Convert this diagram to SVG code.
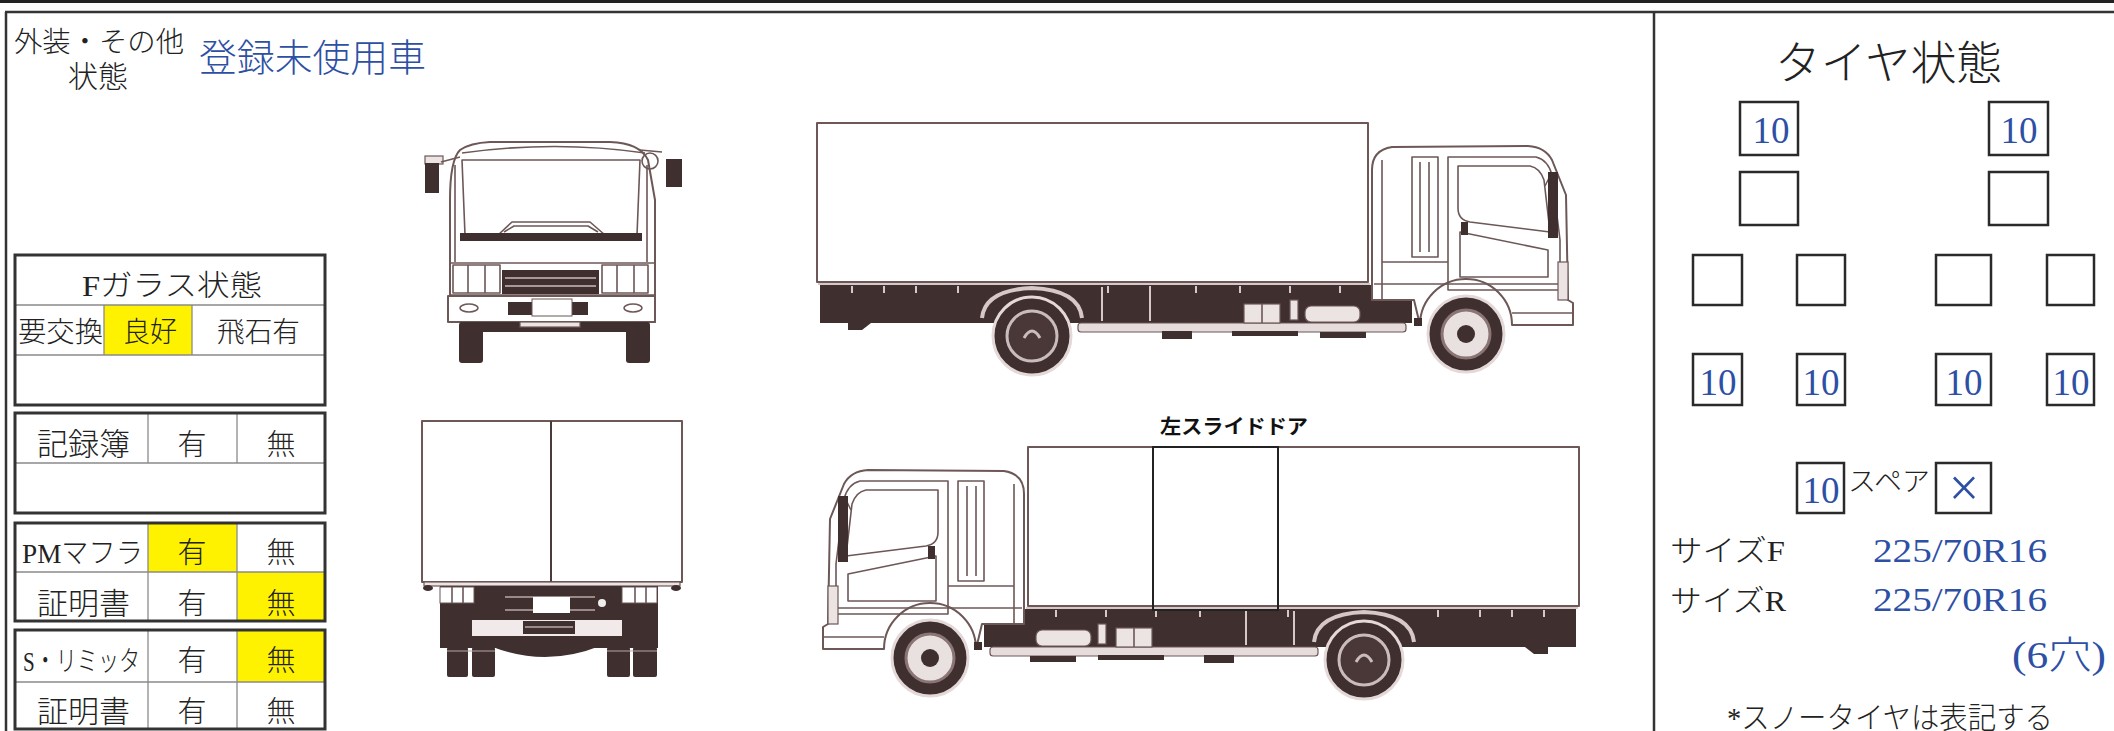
<svg xmlns="http://www.w3.org/2000/svg" width="2114" height="731" viewBox="0 0 2114 731">
<style>
.t{font-family:"Liberation Serif","Noto Sans CJK JP",serif;fill:#222;font-weight:300}
.b{fill:#2d50a5}
.box{fill:none;stroke:#2a2a2a;stroke-width:2.5}
.tbl{fill:none;stroke:#333;stroke-width:3}
.in{stroke:#8a8a8a;stroke-width:1.3}
.y{fill:#fff200}
.ol{fill:#fff;stroke:#6d5757;stroke-width:2;stroke-linejoin:round}
.ln{fill:none;stroke:#6d5757;stroke-width:1.6;stroke-linejoin:round}
.dk{fill:#3f2f2f}
.lt{fill:#ece3e3;stroke:#6d5757;stroke-width:1.2}
.hl{stroke:#d6c8c8;stroke-width:2;fill:none}
</style>
<defs>
<g id="sideTruck">
  <rect class="ol" x="817" y="123" width="551" height="159"/>
  <rect class="dk" x="820" y="285" width="592" height="38"/>
  <line class="hl" x1="818" y1="284" x2="1370" y2="284"/>
  <g class="hl">
    <path d="M852,286v7M884,286v7M916,286v7M958,286v7M1108,286v7M1150,286v7M1196,286v7M1240,286v7M1290,286v7M1340,286v7"/>
    <path d="M1102,287v34M1150,287v34"/>
  </g>
  <path class="dk" d="M848,300 V330 H862 L880,316 V300 Z"/>
  <rect x="1078" y="323" width="328" height="9" rx="3" fill="#e6dcdc" stroke="#6d5757" stroke-width="1.2"/>
  <rect class="dk" x="1162" y="331" width="30" height="8"/>
  <rect class="dk" x="1232" y="331" width="66" height="5"/>
  <rect class="dk" x="1320" y="332" width="46" height="6"/>
  <rect class="lt" x="1244" y="304" width="36" height="19"/>
  <line class="ln" x1="1262" y1="304" x2="1262" y2="323"/>
  <rect class="lt" x="1290" y="300" width="8" height="20"/>
  <rect class="lt" x="1305" y="306" width="55" height="16" rx="6"/>
  <path d="M982,318 Q985,290 1032,288 Q1079,290 1082,318" fill="none" stroke="#d6c8c8" stroke-width="4"/>
  <g>
    <circle cx="1032" cy="336" r="39" fill="#3f2f2f" stroke="#e4d8d8" stroke-width="3"/>
    <circle cx="1032" cy="336" r="25" fill="#4a3838" stroke="#cbbcbc" stroke-width="3"/>
    <path d="M1024,338 Q1032,324 1040,338" fill="none" stroke="#cbbcbc" stroke-width="3"/>
  </g>
  <path class="ol" d="M1372,300 V170 Q1372,150 1392,147 L1528,146 Q1545,147 1552,160 L1566,195 L1568,300 L1573,303 V325 H1512 A46,46 0 0 0 1420,325 L1414,300 Z"/>
  <line class="ln" x1="1382" y1="160" x2="1382" y2="300"/>
  <rect class="ln" x="1412" y="157" width="26" height="100"/>
  <path class="ln" d="M1420,162v90M1429,162v90"/>
  <path class="ln" d="M1448,157 H1536 Q1548,160 1552,175 L1560,240 L1560,290 H1448 Z"/>
  <path class="ln" d="M1458,166 H1530 Q1540,168 1544,180 L1550,232 L1470,222 Q1458,220 1458,208 Z"/>
  <path class="ln" d="M1460,232 L1548,250 L1548,277 H1460 Z"/>
  <rect class="dk" x="1461" y="222" width="7" height="13"/>
  <line class="ln" x1="1382" y1="262" x2="1448" y2="262"/>
  <line class="ln" x1="1374" y1="284" x2="1566" y2="284"/>
  <path class="ln" d="M1545,186 L1549,178"/>
  <rect class="dk" x="1548" y="172" width="10" height="66"/>
  <rect class="lt" x="1558" y="262" width="10" height="38"/>
  <line class="ln" x1="1512" y1="313" x2="1573" y2="313"/>
  <rect class="dk" x="1414" y="318" width="8" height="8"/>
  <g>
    <circle cx="1466" cy="334" r="38" fill="#3f2f2f" stroke="#e4d8d8" stroke-width="3"/>
    <circle cx="1466" cy="334" r="24" fill="#e9e0e0" stroke="#8a7474" stroke-width="3"/>
    <circle cx="1466" cy="334" r="9" fill="#3f2f2f"/>
  </g>
</g>
</defs>
<rect width="2114" height="731" fill="#fff"/>

<g id="frame">
  <rect x="0" y="0" width="2114" height="3" fill="#222"/>
  <line x1="5" y1="12" x2="2114" y2="12" stroke="#333" stroke-width="2.5"/>
  <line x1="6" y1="12" x2="6" y2="731" stroke="#333" stroke-width="2.5"/>
  <line x1="1654" y1="12" x2="1654" y2="731" stroke="#333" stroke-width="2.5"/>
</g>

<g id="header">
  <text class="t" x="14" y="52" font-size="28" textLength="170" lengthAdjust="spacingAndGlyphs">外装・その他</text>
  <text class="t" x="68" y="87" font-size="30">状態</text>
  <text class="t b" x="199" y="71" font-size="38" textLength="227" lengthAdjust="spacingAndGlyphs">登録未使用車</text>
</g>

<g id="fglass">
  <rect class="y" x="104" y="305" width="88" height="50"/>
  <line class="in" x1="15" y1="305" x2="325" y2="305"/>
  <line class="in" x1="15" y1="355" x2="325" y2="355"/>
  <line class="in" x1="104" y1="305" x2="104" y2="355"/>
  <line class="in" x1="192" y1="305" x2="192" y2="355"/>
  <rect class="tbl" x="15" y="255" width="310" height="150"/>
  <text class="t" x="82" y="296" font-size="29" textLength="180" lengthAdjust="spacingAndGlyphs">Fガラス状態</text>
  <text class="t" x="18" y="342" font-size="28" textLength="85" lengthAdjust="spacingAndGlyphs">要交換</text>
  <text class="t" x="123" y="342" font-size="28" textLength="54" lengthAdjust="spacingAndGlyphs">良好</text>
  <text class="t" x="217" y="342" font-size="28" textLength="83" lengthAdjust="spacingAndGlyphs">飛石有</text>
</g>

<g id="record">
  <line class="in" x1="15" y1="463" x2="325" y2="463"/>
  <line class="in" x1="148" y1="413" x2="148" y2="463"/>
  <line class="in" x1="237" y1="413" x2="237" y2="463"/>
  <rect class="tbl" x="15" y="413" width="310" height="100"/>
  <text class="t" x="37" y="455" font-size="31" textLength="93" lengthAdjust="spacingAndGlyphs">記録簿</text>
  <text class="t" x="192" y="455" font-size="29" text-anchor="middle">有</text>
  <text class="t" x="281" y="455" font-size="29" text-anchor="middle">無</text>
</g>

<g id="pm">
  <rect class="y" x="148" y="523" width="89" height="49"/>
  <rect class="y" x="237" y="572" width="88" height="49"/>
  <line class="in" x1="15" y1="572" x2="325" y2="572"/>
  <line class="in" x1="148" y1="523" x2="148" y2="621"/>
  <line class="in" x1="237" y1="523" x2="237" y2="621"/>
  <rect class="tbl" x="15" y="523" width="310" height="98"/>
  <text class="t" x="22" y="563" font-size="28" textLength="121" lengthAdjust="spacingAndGlyphs">PMマフラ</text>
  <text class="t" x="192" y="563" font-size="29" text-anchor="middle">有</text>
  <text class="t" x="281" y="563" font-size="29" text-anchor="middle">無</text>
  <text class="t" x="37" y="614" font-size="30" textLength="93" lengthAdjust="spacingAndGlyphs">証明書</text>
  <text class="t" x="192" y="614" font-size="29" text-anchor="middle">有</text>
  <text class="t" x="281" y="614" font-size="29" text-anchor="middle">無</text>
</g>

<g id="slimiter">
  <rect class="y" x="237" y="630" width="88" height="52"/>
  <line class="in" x1="15" y1="682" x2="325" y2="682"/>
  <line class="in" x1="148" y1="630" x2="148" y2="729"/>
  <line class="in" x1="237" y1="630" x2="237" y2="729"/>
  <rect class="tbl" x="15" y="630" width="310" height="99"/>
  <text class="t" x="23" y="671" font-size="28" textLength="117" lengthAdjust="spacingAndGlyphs">S・リミッタ</text>
  <text class="t" x="192" y="671" font-size="29" text-anchor="middle">有</text>
  <text class="t" x="281" y="671" font-size="29" text-anchor="middle">無</text>
  <text class="t" x="37" y="722" font-size="30" textLength="93" lengthAdjust="spacingAndGlyphs">証明書</text>
  <text class="t" x="192" y="722" font-size="29" text-anchor="middle">有</text>
  <text class="t" x="281" y="722" font-size="29" text-anchor="middle">無</text>
</g>

<g id="truck-front">
  <path class="ol" d="M450,322 V200 Q450,160 460,150 Q470,143 490,142 L610,142 Q640,143 648,160 L655,200 V322 Z"/>
  <path class="ln" d="M462,153 Q555,140 645,153"/>
  <path class="ln" d="M462,160 H640 L637,235 H605 L590,222 H512 L498,235 H465 Z"/>
  <rect class="dk" x="460" y="233" width="182" height="8"/>
  <path class="ln" d="M504,232 L514,226 H588 L598,232"/>
  <path class="ln" d="M455,165 V262 M647,165 V262"/>
  <rect class="lt" x="425" y="156" width="18" height="8"/>
  <rect class="dk" x="425" y="163" width="14" height="30"/>
  <path class="ln" d="M441,162 L460,157"/>
  <circle class="ln" cx="650" cy="161" r="8"/>
  <path class="ln" d="M640,150 L662,152"/>
  <rect class="dk" x="666" y="159" width="16" height="28"/>
  <line class="ln" x1="450" y1="263" x2="655" y2="263"/>
  <line class="ln" x1="450" y1="295" x2="655" y2="295"/>
  <rect class="ln" x="453" y="265" width="47" height="28"/>
  <path class="ln" d="M468,265v28M485,265v28"/>
  <rect class="ln" x="602" y="265" width="46" height="28"/>
  <path class="ln" d="M617,265v28M634,265v28"/>
  <rect class="dk" x="502" y="270" width="97" height="24"/>
  <path d="M505,278 H596 M505,286 H596" stroke="#cbbcbc" stroke-width="1.5"/>
  <rect class="ol" x="448" y="296" width="207" height="26"/>
  <ellipse class="ln" cx="469" cy="308" rx="9" ry="4"/>
  <ellipse class="ln" cx="633" cy="308" rx="9" ry="4"/>
  <rect class="dk" x="508" y="302" width="80" height="13"/>
  <rect x="532" y="299" width="40" height="17" fill="#fff" stroke="#6d5757" stroke-width="1"/>
  <rect class="dk" x="470" y="322" width="165" height="10"/>
  <rect class="lt" x="520" y="322" width="60" height="5"/>
  <rect class="dk" x="459" y="322" width="24" height="41" rx="3"/>
  <rect class="dk" x="626" y="322" width="24" height="41" rx="3"/>
</g>

<g id="truck-side-top">
  <use href="#sideTruck"/>
</g>

<g id="truck-rear">
  <rect class="ol" x="422" y="421" width="260" height="161"/>
  <line x1="551" y1="421" x2="551" y2="582" stroke="#4a3a3a" stroke-width="2"/>
  <rect class="lt" x="424" y="582" width="256" height="4"/>
  <rect class="dk" x="440" y="586" width="218" height="62"/>
  <path class="dk" d="M490,646 Q545,668 600,646 Z"/>
  <ellipse class="dk" cx="428" cy="588" rx="5" ry="3"/>
  <ellipse class="dk" cx="676" cy="588" rx="5" ry="3"/>
  <rect x="440" y="587" width="34" height="16" fill="#fff" stroke="#6d5757"/>
  <path class="ln" d="M452,587v16M463,587v16"/>
  <rect x="622" y="587" width="35" height="16" fill="#fff" stroke="#6d5757"/>
  <path class="ln" d="M635,587v16M646,587v16"/>
  <path d="M505,597 H595 M505,610 H595" stroke="#b8a8a8" stroke-width="1.5"/>
  <rect x="533" y="597" width="37" height="16" fill="#fff"/>
  <circle cx="602" cy="603" r="4" fill="#eee"/>
  <rect x="472" y="620" width="150" height="16" fill="#f2eaea"/>
  <rect class="dk" x="523" y="621" width="52" height="13"/>
  <line x1="525" y1="627" x2="573" y2="627" stroke="#b8a8a8" stroke-width="1.5"/>
  <rect class="dk" x="447" y="647" width="21" height="30" rx="2"/>
  <rect class="dk" x="472" y="647" width="23" height="30" rx="2"/>
  <rect class="dk" x="607" y="647" width="23" height="30" rx="2"/>
  <rect class="dk" x="633" y="647" width="24" height="30" rx="2"/>
  <path d="M447,651 H495 M607,651 H657" stroke="#b8a8a8" stroke-width="1.2"/>
</g>

<g id="truck-side-bottom">
  <use href="#sideTruck" transform="matrix(-1,0,0,1,2396,324)"/>
  <rect x="1153" y="447" width="125" height="163" fill="none" stroke="#222" stroke-width="2"/>
  <text x="1160" y="434" font-family="'Noto Sans CJK JP',sans-serif" font-weight="bold" font-size="20" fill="#111" textLength="148" lengthAdjust="spacingAndGlyphs">左スライドドア</text>
</g>

<g id="tire-title">
  <text class="t" x="1775" y="79" font-size="46" textLength="227" lengthAdjust="spacingAndGlyphs">タイヤ状態</text>
</g>

<g id="tires">
  <rect class="box" x="1740" y="102" width="58" height="53"/>
  <rect class="box" x="1989" y="102" width="59" height="53"/>
  <rect class="box" x="1740" y="172" width="58" height="53"/>
  <rect class="box" x="1989" y="172" width="59" height="53"/>
  <rect class="box" x="1693" y="255" width="49" height="50"/>
  <rect class="box" x="1797" y="255" width="48" height="50"/>
  <rect class="box" x="1936" y="255" width="55" height="50"/>
  <rect class="box" x="2047" y="255" width="47" height="50"/>
  <rect class="box" x="1693" y="354" width="49" height="51"/>
  <rect class="box" x="1797" y="354" width="48" height="51"/>
  <rect class="box" x="1936" y="354" width="55" height="51"/>
  <rect class="box" x="2047" y="354" width="47" height="51"/>
  <g class="t b" font-size="37" text-anchor="middle">
    <text x="1771" y="143">10</text>
    <text x="2019" y="143">10</text>
    <text x="1718" y="395">10</text>
    <text x="1821" y="395">10</text>
    <text x="1964" y="395">10</text>
    <text x="2071" y="395">10</text>
  </g>
</g>

<g id="spare">
  <rect class="box" x="1797" y="463" width="47" height="50"/>
  <rect class="box" x="1936" y="463" width="55" height="50"/>
  <text class="t b" x="1821" y="503" font-size="37" text-anchor="middle">10</text>
  <text class="t" x="1848" y="491" font-size="27" textLength="82" lengthAdjust="spacingAndGlyphs">スペア</text>
  <text x="1964" y="506" font-family="'Liberation Serif',serif" font-size="54" fill="#2d50a5" text-anchor="middle">×</text>
</g>

<g id="sizes">
  <text class="t" x="1670" y="561" font-size="30" textLength="115" lengthAdjust="spacingAndGlyphs">サイズF</text>
  <text class="t b" x="1873" y="562" font-size="33" textLength="174" lengthAdjust="spacingAndGlyphs">225/70R16</text>
  <text class="t" x="1670" y="611" font-size="30" textLength="116" lengthAdjust="spacingAndGlyphs">サイズR</text>
  <text class="t b" x="1873" y="611" font-size="33" textLength="174" lengthAdjust="spacingAndGlyphs">225/70R16</text>
  <text class="t b" x="2012" y="668" font-size="38" textLength="94" lengthAdjust="spacingAndGlyphs">(6穴)</text>
  <text class="t" x="1727" y="728" font-size="30" textLength="326" lengthAdjust="spacingAndGlyphs">*スノータイヤは表記する</text>
</g>
</svg>
